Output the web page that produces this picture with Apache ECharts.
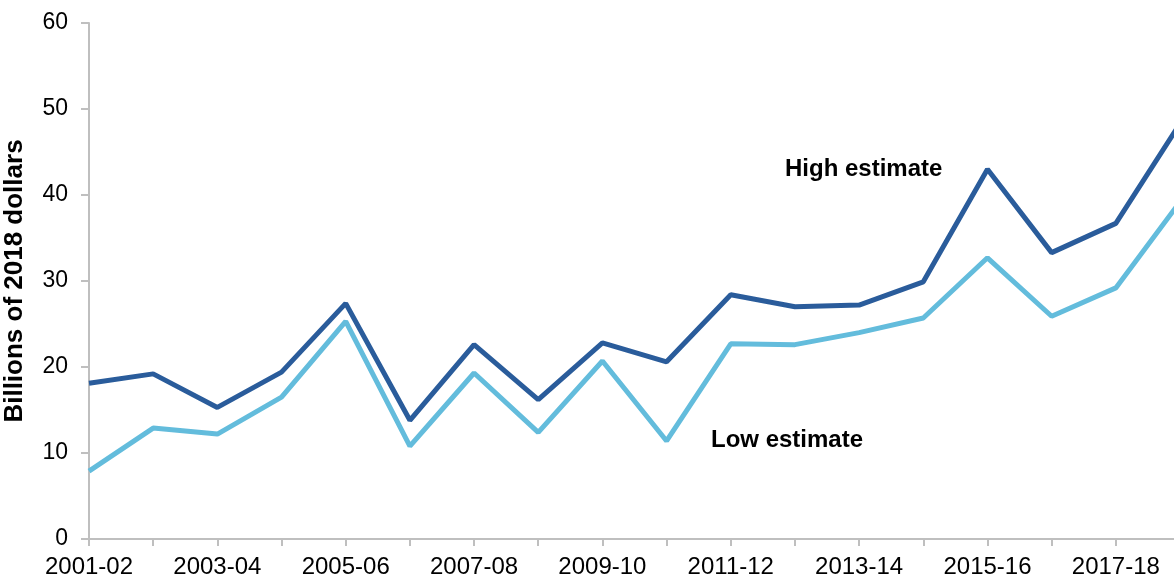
<!DOCTYPE html>
<html><head><meta charset="utf-8">
<script src="https://cdn.jsdelivr.net/npm/echarts@6/dist/echarts.min.js"></script>
<style>html,body{margin:0;padding:0;background:#fff}#c{width:1174px;height:579px}</style>
</head><body><div id="c"></div>
<script>
const categories = ['2001-02','2002-03','2003-04','2004-05','2005-06','2006-07','2007-08','2008-09','2009-10','2010-11','2011-12','2012-13','2013-14','2014-15','2015-16','2016-17','2017-18','2018-19'];
const highEstimate = [18.1,19.2,15.3,19.4,27.4,13.8,22.6,16.2,22.8,20.6,28.4,27.0,27.2,29.9,43.0,33.3,36.7,48.3];
const lowEstimate = [7.9,12.9,12.2,16.5,25.3,10.8,19.3,12.4,20.7,11.4,22.7,22.6,24.0,25.7,32.7,25.9,29.2,39.2];
const yTicks = [0,10,20,30,40,50,60];

const chart = echarts.init(document.getElementById('c'));
const font = 'Liberation Sans, Arial, sans-serif';
chart.setOption({
  animation:false,
  grid:{left:89,width:1091,top:23,height:516,containLabel:false,outerBoundsMode:'none'},
  xAxis:{type:'category',data:categories,boundaryGap:false,
    axisLine:{lineStyle:{color:'#bfbfbf',width:2}},
    axisTick:{show:true,interval:0,length:7,lineStyle:{color:'#bfbfbf',width:2}},
    axisLabel:{interval:1,color:'#000',fontFamily:font,fontSize:24,margin:16},
    splitLine:{show:false}},
  yAxis:{type:'value',min:yTicks[0],max:yTicks[yTicks.length-1],interval:10,
    name:'Billions of 2018 dollars',nameLocation:'middle',nameGap:61,
    nameTextStyle:{fontFamily:font,fontSize:26,fontWeight:'bold',color:'#000'},
    axisLine:{show:true,lineStyle:{color:'#bfbfbf',width:2}},
    axisTick:{show:true,length:8,lineStyle:{color:'#bfbfbf',width:2}},
    axisLabel:{color:'#000',fontFamily:font,fontSize:23,margin:21},
    splitLine:{show:false}},
  series:[
    {name:'High estimate',type:'line',data:highEstimate,symbol:'none',lineStyle:{color:'#2a5c9b',width:5},itemStyle:{color:'#2a5c9b'}},
    {name:'Low estimate',type:'line',data:lowEstimate,symbol:'none',lineStyle:{color:'#63bcdc',width:5},itemStyle:{color:'#63bcdc'}}
  ],
  graphic:[
    {type:'text',left:785,top:157,style:{text:'High estimate',font:'bold 24px '+font,fill:'#000'}},
    {type:'text',left:711,top:428,style:{text:'Low estimate',font:'bold 24px '+font,fill:'#000'}}
  ]
});
</script></body></html>
